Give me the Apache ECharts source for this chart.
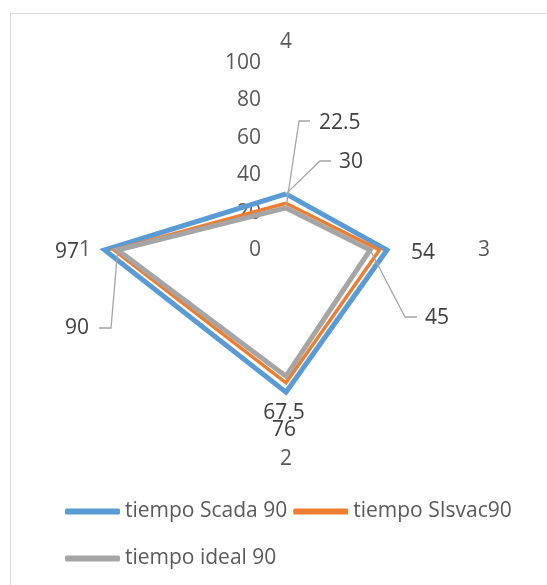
<!DOCTYPE html>
<html>
<head>
<meta charset="utf-8">
<script src="https://cdn.jsdelivr.net/npm/echarts@6/dist/echarts.min.js"></script>
<style>
  html, body { margin: 0; padding: 0; background: #fff; }
  #chart { width: 547px; height: 585px; }
</style>
</head>
<body>
<div id="chart"></div>
<script>
// Radar axes, listed from the top going round
const categories = ['4', '1', '2', '3'];
const seriesNames = ['tiempo Scada 90', 'tiempo SIsvac90', 'tiempo ideal 90'];
const scadaValues = [30, 97, 76, 54];
const sisvacValues = [25, 92, 71, 50];
const idealValues = [22.5, 90, 67.5, 45];
const valueMax = 100;
const valueStep = 20;

const colors = ['#5B9BD5', '#ED7D31', '#A5A5A5'];
const FONT = '"Open Sans", "Noto Sans", sans-serif';
const FS = 21;
const CX = 286, CY = 250, R = 187;

// Gap between each axis end and its name (top, left, bottom, right)
const nameGaps = [10, 8, 12, 5];

// Data label placement per series and side; callouts carry an elbow path
const labelSpots = {
  0: { top:    { x: 339, y: 162, align: 'left', elbow: [[320, 161], [331, 161]] },
       right:  { x: 411, y: 253, align: 'left' },
       bottom: { x: 284, y: 430, align: 'center' },
       left:   { x: 55,  y: 252, align: 'left' } },
  2: { top:    { x: 319, y: 123, align: 'left', elbow: [[299, 121], [310, 121]] },
       right:  { x: 425, y: 318, align: 'left', elbow: [[405, 317], [417, 317]] },
       bottom: { x: 284, y: 413, align: 'center' },
       left:   { x: 89,  y: 328, align: 'right', elbow: [[111, 328], [99, 328]] } }
};

function sideOfPoint(x, y) {
  const dx = x - CX, dy = y - CY;
  if (Math.abs(dx) > Math.abs(dy)) return dx > 0 ? 'right' : 'left';
  return dy > 0 ? 'bottom' : 'top';
}

const chart = echarts.init(document.getElementById('chart'), null, { renderer: 'canvas' });

const indicator = categories.map(function (name, i) {
  const ind = { name: name, min: 0, max: valueMax, nameGap: nameGaps[i] };
  if (i === 0) {
    ind.axisLabel = { show: true };
  }
  return ind;
});

function makeSeries(idx, values, width, withLabels) {
  return {
    type: 'radar',
    name: seriesNames[idx],
    z: 2 + idx,
    symbol: 'circle',
    symbolSize: 1,
    itemStyle: { color: colors[idx] },
    lineStyle: { color: colors[idx], width: width, join: 'miter' },
    label: {
      show: withLabels,
      color: '#404040',
      fontFamily: FONT,
      fontSize: FS,
      formatter: function (p) { return p.value; }
    },
    labelLayout: withLabels ? function (params) {
      const r = params.rect;
      const spot = labelSpots[idx][sideOfPoint(r.x + r.width / 2, r.y + r.height / 2)];
      return { x: spot.x, y: spot.y, align: spot.align, verticalAlign: 'middle' };
    } : undefined,
    emphasis: { disabled: true },
    data: [{ value: values, name: seriesNames[idx] }]
  };
}

const legendText = { color: '#595959', fontFamily: FONT, fontSize: FS };

const frame = {
  id: 'frame',
  type: 'rect',
  shape: { x: 10.5, y: 13.5, width: 600, height: 620 },
  style: { fill: 'none', stroke: '#D9D9D9', lineWidth: 1 },
  silent: true,
  z: -1
};

const option = {
  animation: false,
  color: colors,
  graphic: [frame],
  radar: {
    center: [CX, CY],
    radius: R,
    startAngle: 90,
    splitNumber: valueMax / valueStep,
    shape: 'polygon',
    indicator: indicator,
    axisName: { color: '#595959', fontFamily: FONT, fontSize: FS },
    axisLine: { show: false },
    axisTick: { show: false },
    splitLine: { show: false },
    splitArea: { show: false },
    axisLabel: {
      show: false, color: '#595959', fontFamily: FONT, fontSize: FS,
      margin: 25, padding: [8, 0, 0, 0]
    }
  },
  legend: [{
    data: [seriesNames[0], seriesNames[1]],
    left: 65, top: 501,
    orient: 'horizontal',
    icon: 'roundRect',
    itemWidth: 55, itemHeight: 6, itemGap: 6,
    padding: 0,
    textStyle: legendText
  }, {
    data: [seriesNames[2]],
    left: 65, top: 548,
    icon: 'roundRect',
    itemWidth: 55, itemHeight: 6,
    padding: 0,
    textStyle: legendText
  }],
  series: [
    makeSeries(0, scadaValues, 5, true),
    makeSeries(1, sisvacValues, 3.5, false),
    makeSeries(2, idealValues, 5, true)
  ]
};

chart.setOption(option);

// Callout leader lines: from each labelled vertex (placed by the radar's own axes) to its label
const radarCS = chart.getModel().getComponent('radar').coordinateSystem;
const leaders = [];
[[0, scadaValues], [2, idealValues]].forEach(function (entry) {
  const idx = entry[0], vals = entry[1];
  vals.forEach(function (v, i) {
    const p = radarCS.dataToPoint(v, i);
    const spot = labelSpots[idx][sideOfPoint(p[0], p[1])];
    if (!spot.elbow) return;
    leaders.push({
      type: 'polyline',
      shape: { points: [p, spot.elbow[0], spot.elbow[1]] },
      style: { stroke: '#A6A6A6', lineWidth: 1.3, fill: null },
      silent: true,
      z: 100
    });
  });
});
chart.setOption({ graphic: [frame].concat(leaders) });
</script>
</body>
</html>
